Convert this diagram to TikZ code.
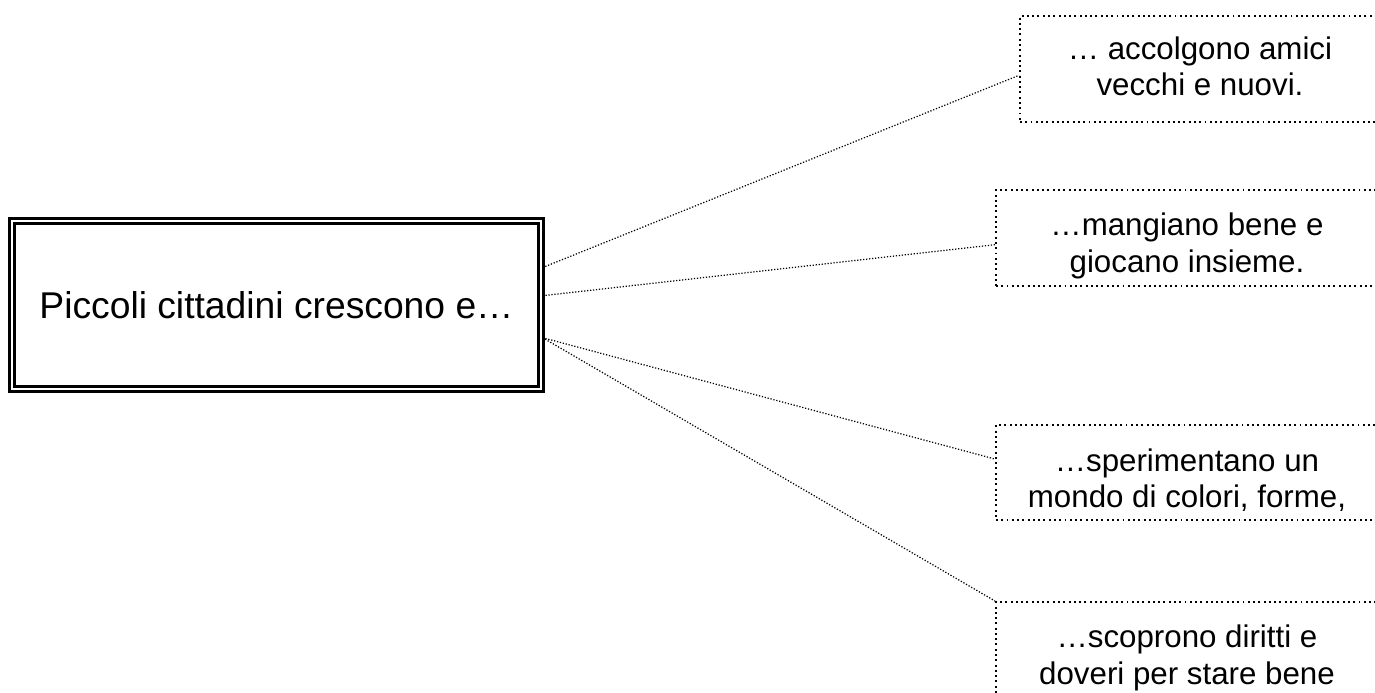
\documentclass[tikz,border=0pt]{standalone}
\usepackage{fontspec}
\setmainfont{Liberation Sans}
\usepackage{tikz}
\usetikzlibrary{positioning}
\tikzstyle{mainbox} = [rectangle, draw=black, line width=1.6pt, double, double distance=1.2pt, minimum width=10.585cm, minimum height=3.365cm, text centered, font=\fontsize{21.2}{25}\selectfont]
\tikzstyle{textbox} = [rectangle, draw=black, line width=1.1pt, dash pattern=on 1.1pt off 1.9pt, minimum width=7.64cm, minimum height=1.92cm]
\tikzstyle{boxtext} = [align=center, inner sep=0pt, font=\fontsize{17.8}{20.6}\selectfont]
\tikzstyle{link} = [line width=0.7pt, densely dotted]

\begin{document}
\begin{tikzpicture}
\clip (0,0) rectangle (27.5,13.86);

% Central box
\node[mainbox] (kids) at (5.53,7.76) {Piccoli cittadini crescono e…};

% Boxes on the right
\node[textbox, minimum width=7.2cm, minimum height=2.12cm] (friends) at (24.0,12.48) {};
\node[textbox] (food) at (23.74,9.10) {};
\node[textbox, minimum height=1.9cm] (colours) at (23.74,4.41) {};
\node[textbox] (rights) at (23.74,0.86) {};

% Texts in the boxes
\node[boxtext] (friendstext) at ([yshift=0.06cm]friends.center) {… accolgono amici\\vecchi e nuovi.};
\node[boxtext] (foodtext) at ([yshift=-0.16cm]food.center) {…mangiano bene e\\giocano insieme.};
\node[boxtext] (colourstext) at ([yshift=-0.16cm]colours.center) {…sperimentano un\\mondo di colori, forme,};
\node[boxtext] (rightstext) at ([yshift=-0.16cm]rights.center) {…scoprono diritti e\\doveri per stare bene};

% Connections
\draw[link] (kids.8) -- (friends.182.5);
\draw[link] (kids.2.8) -- (food.182);
\draw[link] (kids.-7.9) -- (colours.176.3);
\draw[link] (kids.-7.9) -- (rights.north west);
\end{tikzpicture}
\end{document}
